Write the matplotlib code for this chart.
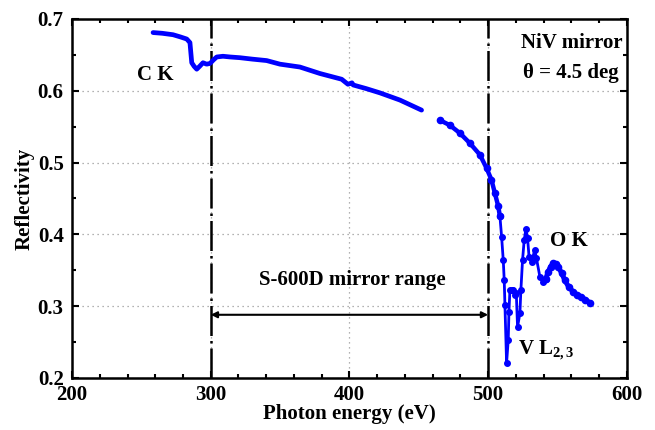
import matplotlib
matplotlib.use("Agg")
import matplotlib.pyplot as plt
from matplotlib.ticker import MultipleLocator

# Photon energy (eV) and reflectivity
energy_a = [258.4, 265.0, 272.8, 278.0, 282.7, 285.0, 286.3, 288.0, 289.9, 292.0,
            294.4, 297.0, 299.5, 302.0, 304.3, 308.8, 314.0, 321.0, 330.0, 340.3,
            349.9, 364.3, 378.7, 394.4, 398.9, 401.8, 402.7, 412.0, 422.0, 436.4, 452.0]
refl_a = [0.681, 0.680, 0.678, 0.675, 0.672, 0.667, 0.639, 0.634, 0.630, 0.634,
          0.639, 0.637, 0.638, 0.643, 0.647, 0.648, 0.647, 0.646, 0.644, 0.642,
          0.637, 0.633, 0.624, 0.616, 0.609, 0.611, 0.608, 0.603, 0.597, 0.587, 0.573]

energy_b = [465.2, 472.4, 479.6, 486.8, 494.0, 498.9, 502.4, 504.9, 507.3, 508.5,
            509.7, 510.9, 511.6, 512.1, 513.3, 514.5, 515.0, 515.7, 516.9, 518.1,
            519.3, 520.3, 521.2, 522.9, 523.6, 524.8, 526.0, 527.2, 528.4, 529.5,
            531.3, 533.6, 534.8, 537.3, 539.7, 541.5, 543.3, 545.0, 546.9, 548.7,
            550.5, 553.0, 555.3, 558.0, 561.3, 564.0, 567.3, 570.0, 573.3]
refl_b = [0.559, 0.552, 0.541, 0.527, 0.511, 0.492, 0.476, 0.457, 0.439, 0.425,
          0.397, 0.364, 0.336, 0.302, 0.221, 0.253, 0.292, 0.322, 0.323, 0.322,
          0.316, 0.318, 0.271, 0.290, 0.322, 0.364, 0.392, 0.407, 0.395, 0.369,
          0.362, 0.378, 0.367, 0.341, 0.334, 0.338, 0.348, 0.355, 0.360, 0.359,
          0.355, 0.346, 0.336, 0.327, 0.320, 0.316, 0.313, 0.309, 0.305]

range_lo, range_hi = 300, 500
arrow_y = 0.288

plt.rcParams['font.family'] = ['Liberation Serif', 'DejaVu Serif']
plt.rcParams['font.weight'] = 'bold'
plt.rcParams['mathtext.fontset'] = 'custom'
plt.rcParams['mathtext.rm'] = 'Liberation Serif:bold'
plt.rcParams['mathtext.bf'] = 'Liberation Serif:bold'
plt.rcParams['mathtext.it'] = 'Liberation Serif:bold'

fig = plt.figure(figsize=(6.55, 4.30), dpi=100)
ax = fig.add_axes([0.110, 0.121, 0.847, 0.835])

ax.set_xlim(200, 600)
ax.set_ylim(0.2, 0.7)

blue = '#0000ff'
ax.plot(energy_a, refl_a, color=blue, lw=3.4, solid_capstyle='round',
        solid_joinstyle='round', zorder=3)
# smooth descent, sharp structures, broad O K bump
ax.plot(energy_b[:10], refl_b[:10], color=blue, lw=3.2, marker='o', ms=4.5,
        solid_capstyle='round', zorder=3)
ax.plot(energy_b[9:36], refl_b[9:36], color=blue, lw=2.0, marker='o', ms=4,
        zorder=3)
ax.plot(energy_b[35:], refl_b[35:], color=blue, lw=3.6, marker='o', ms=4.5,
        solid_capstyle='round', solid_joinstyle='round', zorder=3)

# mirror range lines
for xv in (range_lo, range_hi):
    ax.axvline(xv, color='black', lw=1.8, ls=(0, (12, 2, 1, 2)), zorder=2)
ax.annotate('', xy=(range_lo, arrow_y), xytext=(range_hi, arrow_y),
            arrowprops=dict(arrowstyle='<|-|>', color='black', lw=1.5,
                            mutation_scale=9, shrinkA=0, shrinkB=0))

tfs = 15
ax.text(260, 0.622, 'C K', fontsize=tfs, fontweight='bold', ha='center', va='center')
ax.text(560, 0.667, 'NiV mirror', fontsize=tfs, fontweight='bold',
        ha='center', va='center')
ax.text(560, 0.625, 'θ = 4.5 deg', fontsize=tfs, fontweight='bold',
        ha='center', va='center')
ax.text(558, 0.391, 'O K', fontsize=tfs, fontweight='bold', ha='center', va='center')
ax.text(542, 0.238, r'V L$_{2,3}$', fontsize=tfs, fontweight='bold',
        ha='center', va='center')
ax.text(402, 0.337, 'S-600D mirror range', fontsize=tfs, fontweight='bold',
        ha='center', va='center')

ax.xaxis.set_major_locator(MultipleLocator(100))
ax.xaxis.set_minor_locator(MultipleLocator(20))
ax.yaxis.set_major_locator(MultipleLocator(0.1))
ax.yaxis.set_minor_locator(MultipleLocator(0.05))
ax.yaxis.set_major_formatter(matplotlib.ticker.FormatStrFormatter('%.1f'))
ax.tick_params(which='both', direction='in', top=True, right=True, width=1.5)
ax.tick_params(which='major', length=5, labelsize=15)
ax.tick_params(axis='y', which='major', pad=6)
ax.tick_params(axis='x', which='major', pad=5)
ax.tick_params(which='minor', length=3)
for lab in ax.get_xticklabels() + ax.get_yticklabels():
    lab.set_fontweight('bold')
ax.grid(True, which='major', color='#999999', ls=(0, (1, 3)), lw=0.9, zorder=1)
for s in ax.spines.values():
    s.set_linewidth(1.8)

ax.set_xlabel('Photon energy (eV)', fontsize=15, fontweight='bold', labelpad=-1)
ax.set_ylabel('Reflectivity', fontsize=15, fontweight='bold', labelpad=2)

fig.savefig('out.png', dpi=100)
